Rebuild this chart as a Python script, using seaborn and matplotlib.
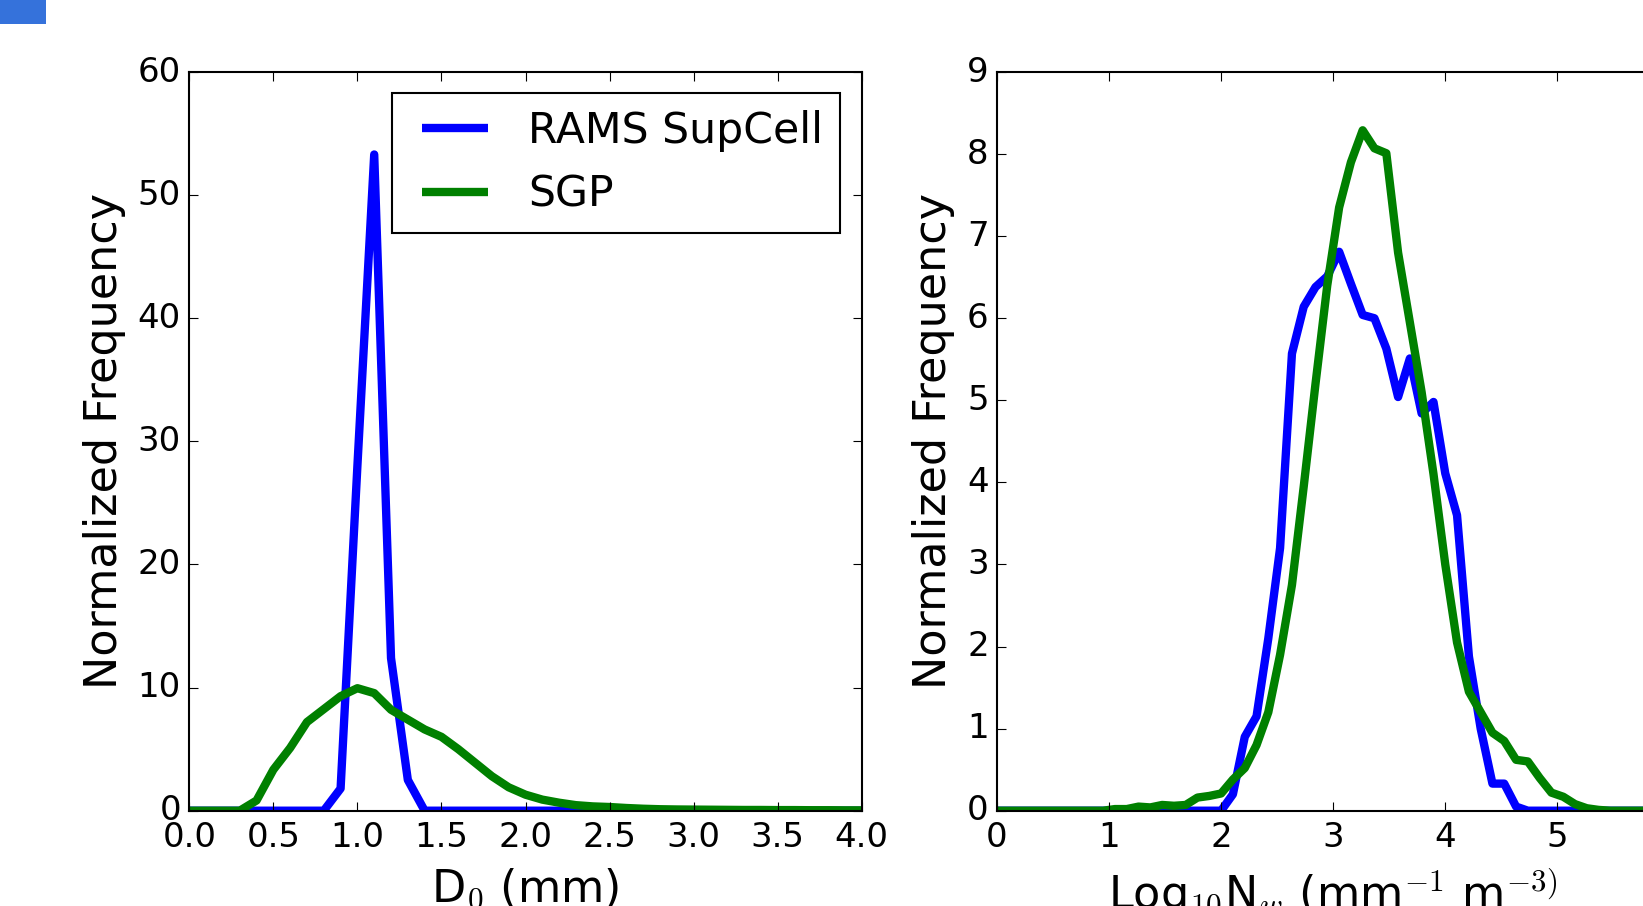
import matplotlib
matplotlib.use("Agg")
import matplotlib.pyplot as plt
from matplotlib.patches import Rectangle
import seaborn as sns
import pandas as pd

# ---------------- data ----------------
d0_x = [0.0, 0.1, 0.2, 0.3, 0.4, 0.5, 0.6, 0.7, 0.8, 0.9,
        1.0, 1.1, 1.2, 1.3, 1.4, 1.5, 1.6, 1.7, 1.8, 1.9,
        2.0, 2.1, 2.2, 2.3, 2.4, 2.5, 2.6, 2.7, 2.8, 2.9,
        3.0, 3.1, 3.2, 3.3, 3.4, 3.5, 3.6, 3.7, 3.8, 3.9, 4.0]
d0_rams = [0, 0, 0, 0, 0, 0, 0, 0, 0, 1.8,
           28.0, 53.3, 12.4, 2.5, 0, 0, 0, 0, 0, 0,
           0, 0, 0, 0, 0, 0, 0, 0, 0, 0,
           0, 0, 0, 0, 0, 0, 0, 0, 0, 0, 0]
d0_sgp = [0, 0, 0, 0, 0.83, 3.33, 5.1, 7.2, 8.25, 9.3,
          9.95, 9.55, 8.2, 7.4, 6.6, 6.0, 5.0, 3.9, 2.8, 1.9,
          1.3, 0.9, 0.65, 0.45, 0.35, 0.3, 0.22, 0.16, 0.12, 0.1,
          0.09, 0.08, 0.07, 0.06, 0.06, 0.05, 0.05, 0.04, 0.04, 0.03, 0.03]

nw_x = [0.0, 0.105, 0.211, 0.316, 0.421, 0.526, 0.632, 0.737, 0.842, 0.947,
        1.053, 1.158, 1.263, 1.368, 1.474, 1.579, 1.684, 1.789, 1.895, 2.0,
        2.105, 2.211, 2.316, 2.421, 2.526, 2.632, 2.737, 2.842, 2.947, 3.053,
        3.158, 3.263, 3.368, 3.474, 3.579, 3.684, 3.789, 3.895, 4.0, 4.105,
        4.211, 4.316, 4.421, 4.526, 4.632, 4.737, 4.842, 4.947, 5.053, 5.158,
        5.263, 5.368, 5.474, 5.579, 5.684, 5.789, 5.895, 6.0]
nw_rams = [0, 0, 0, 0, 0, 0, 0, 0, 0, 0,
           0, 0, 0, 0, 0, 0, 0, 0, 0, 0,
           0.2, 0.9, 1.15, 2.1, 3.2, 5.57, 6.14, 6.38, 6.51, 6.81,
           6.42, 6.04, 6.0, 5.63, 5.04, 5.51, 4.84, 4.98, 4.11, 3.6,
           1.88, 1.0, 0.33, 0.33, 0.05, 0, 0, 0, 0, 0,
           0, 0, 0, 0, 0, 0, 0, 0]
nw_sgp = [0, 0, 0, 0, 0, 0, 0, 0, 0, 0,
          0.02, 0.02, 0.05, 0.04, 0.07, 0.06, 0.07, 0.16, 0.18, 0.21,
          0.38, 0.52, 0.8, 1.2, 1.9, 2.75, 3.95, 5.2, 6.4, 7.35,
          7.9, 8.29, 8.07, 8.01, 6.8, 5.95, 5.1, 4.1, 3.0, 2.05,
          1.45, 1.2, 0.95, 0.85, 0.62, 0.6, 0.4, 0.22, 0.17, 0.08,
          0.03, 0.01, 0, 0, 0, 0, 0, 0]

series_labels = ["RAMS SupCell", "SGP"]
series_colors = ["blue", "green"]

left_xticks = [0.0, 0.5, 1.0, 1.5, 2.0, 2.5, 3.0, 3.5, 4.0]
left_yticks = [0, 10, 20, 30, 40, 50, 60]
right_xticks = [0, 1, 2, 3, 4, 5, 6]
right_yticks = [0, 1, 2, 3, 4, 5, 6, 7, 8, 9]

# ---------------- style ----------------
plt.style.use("classic")
plt.rcParams.update({
    "figure.facecolor": "white",
    "savefig.facecolor": "white",
    "font.family": ["DejaVu Sans"],
    "mathtext.fontset": "cm",
    "xtick.direction": "in",
    "ytick.direction": "in",
    "xtick.major.size": 6.2,
    "ytick.major.size": 6.2,
    "xtick.major.width": 0.8,
    "ytick.major.width": 0.8,
    "xtick.major.pad": 7.5,
    "ytick.major.pad": 6,
    "axes.linewidth": 1.5,
    "xtick.labelsize": 24.5,
    "ytick.labelsize": 24.5,
    "axes.labelsize": 32,
    "legend.fontsize": 30.7,
})

W, H = 1643, 906
fig = plt.figure(figsize=(W / 100, H / 100), dpi=100)

ax_w = 672.4 / W
ax_h = 738.7 / H
ax_b = (H - 810.7) / H
ax1 = fig.add_axes([189.3 / W, ax_b, ax_w, ax_h])
ax2 = fig.add_axes([997.0 / W, ax_b, ax_w, ax_h])

lw = 6.0
df1 = pd.DataFrame({"x": d0_x, "rams": d0_rams, "sgp": d0_sgp})
df2 = pd.DataFrame({"x": nw_x, "rams": nw_rams, "sgp": nw_sgp})

for ax, df in ((ax1, df1), (ax2, df2)):
    for col, lab, c in zip(["rams", "sgp"], series_labels, series_colors):
        sns.lineplot(data=df, x="x", y=col, ax=ax, color=c, lw=lw,
                     label=lab, legend=False, sort=False,
                     solid_joinstyle="round", solid_capstyle="butt")
    ax.set_ylabel("Normalized Frequency", labelpad=8.5)
    ax.tick_params(top=True, right=True, which="both")
    ax.minorticks_off()

ax1.set_xlim(0, 4)
ax1.set_ylim(0, 60)
ax1.set_xticks(left_xticks)
ax1.set_xticklabels([f"{v:.1f}" for v in left_xticks])
ax1.set_yticks(left_yticks)
ax1.set_xlabel("D$_0$ (mm)", labelpad=9)

ax2.set_xlim(0, 6)
ax2.set_ylim(0, 9)
ax2.set_xticks(right_xticks)
ax2.set_yticks(right_yticks)
ax2.set_xlabel("Log$_{10}$N$_w$ (mm$^{-1}$ m$^{-3)}$", labelpad=9)

leg = ax1.legend(loc="upper right", frameon=True, fancybox=False,
                 borderpad=0.4, handlelength=2.15, handletextpad=0.65,
                 labelspacing=0.5, borderaxespad=0.5, numpoints=2)
leg.get_frame().set_edgecolor("black")
leg.get_frame().set_linewidth(1.5)

fig.patches.append(Rectangle((0, 1 - 24 / H), 46 / W, 24 / H,
                             transform=fig.transFigure, facecolor="#3572db",
                             edgecolor="none"))

fig.savefig("out.png", dpi=100)
